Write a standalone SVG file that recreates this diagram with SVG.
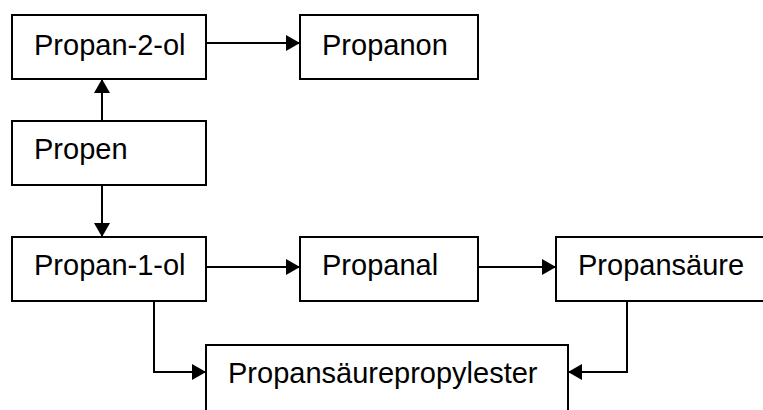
<svg xmlns="http://www.w3.org/2000/svg" width="763" height="410" viewBox="0 0 763 410">
<style>
.box{fill:#fff;stroke:#000;stroke-width:2}
.lbl{font-family:"Liberation Sans",Arial,sans-serif;font-size:29px;fill:#000}
.con{fill:none;stroke:#000;stroke-width:2}
</style>
<defs>
<marker id="ah" markerUnits="userSpaceOnUse" markerWidth="15" markerHeight="16" refX="14" refY="8" orient="auto">
<path d="M0,0 L14,8 L0,16 Z" fill="#000"/>
</marker>
</defs>
<rect width="763" height="410" fill="#fff"/>
<g id="propan2ol"><rect class="box" x="12" y="15" width="194" height="64"/><text class="lbl" x="34" y="55">Propan-2-ol</text></g>
<g id="propanon"><rect class="box" x="300" y="15" width="178" height="64"/><text class="lbl" x="322" y="55">Propanon</text></g>
<g id="propen"><rect class="box" x="12" y="121" width="194" height="64"/><text class="lbl" x="34" y="159">Propen</text></g>
<g id="propan1ol"><rect class="box" x="12" y="237" width="194" height="64"/><text class="lbl" x="34" y="275">Propan-1-ol</text></g>
<g id="propanal"><rect class="box" x="300" y="237" width="178" height="64"/><text class="lbl" x="322" y="275">Propanal</text></g>
<g id="propansaeure"><rect class="box" x="556" y="237" width="215" height="64"/><text class="lbl" x="578" y="275">Propansäure</text></g>
<g id="ester"><rect class="box" x="206" y="345" width="362" height="80"/><text class="lbl" x="228" y="383">Propansäurepropylester</text></g>
<g id="connectors">
<path class="con" d="M206,43 H300" marker-end="url(#ah)"/>
<path class="con" d="M102,121 V79" marker-end="url(#ah)"/>
<path class="con" d="M102,185 V237" marker-end="url(#ah)"/>
<path class="con" d="M206,267 H300" marker-end="url(#ah)"/>
<path class="con" d="M478,267 H556" marker-end="url(#ah)"/>
<path class="con" d="M102,301 H154 V372 H206" marker-end="url(#ah)"/>
<path class="con" d="M684,301 H627 V372 H568" marker-end="url(#ah)"/>
</g>
</svg>
